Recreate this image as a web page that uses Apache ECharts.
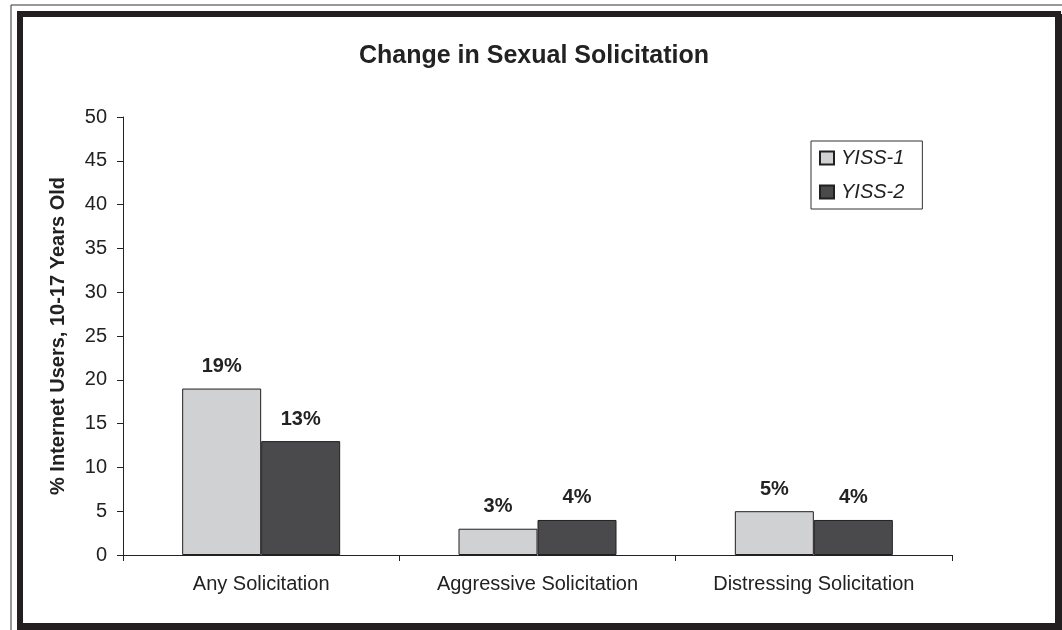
<!DOCTYPE html>
<html><head><meta charset="utf-8">
<script src="https://cdn.jsdelivr.net/npm/echarts@6/dist/echarts.min.js"></script>
<style>html,body{margin:0;padding:0;background:#fff}#c{width:1062px;height:630px}</style>
</head><body><div id="c"></div>
<script>
const categories = ['Any Solicitation', 'Aggressive Solicitation', 'Distressing Solicitation'];
const yiss1 = [19, 3, 5];
const yiss2 = [13, 4, 4];
const seriesNames = ['YISS-1', 'YISS-2'];
const chartTitle = 'Change in Sexual Solicitation';
const yAxisName = '% Internet Users, 10-17 Years Old';

const font = 'Arial, "Liberation Sans", sans-serif';
const chart = echarts.init(document.getElementById('c'));
const labelOpt = {show: true, position: 'top', distance: 12, formatter: p => p.value + '%', fontFamily: font, fontWeight: 'bold', fontSize: 20, color: '#222'};
chart.setOption({
  animation: false,
  graphic: [
    {type: 'rect', shape: {x: 11, y: 5, width: 1060, height: 630}, style: {fill: 'none', stroke: '#333', lineWidth: 1}, silent: true},
    {type: 'rect', shape: {x: 20, y: 14, width: 1038, height: 612}, style: {fill: 'none', stroke: '#231f20', lineWidth: 6}, silent: true},
    {type: 'rect', shape: {x: 1055, y: 14, width: 7, height: 616}, style: {fill: '#231f20'}, silent: true},
    {type: 'rect', shape: {x: 17, y: 623, width: 1045, height: 7}, style: {fill: '#231f20'}, silent: true}
  ],
  title: {text: chartTitle, left: 529, top: 39, textAlign: 'center', textStyle: {fontFamily: font, fontWeight: 'bold', fontSize: 25, color: '#222'}},
  legend: {
    data: seriesNames, orient: 'vertical', left: 811, top: 141,
    padding: [7, 18, 7, 8], itemGap: 14, itemWidth: 14, itemHeight: 13, borderColor: '#333', borderWidth: 1,
    textStyle: {fontFamily: font, fontStyle: 'italic', fontSize: 20, color: '#222', padding: [0, 0, 0, 2]},
    icon: 'rect'
  },
  grid: {left: 123, right: 110, top: 117, bottom: 75},
  xAxis: {
    type: 'category', data: categories,
    axisLine: {lineStyle: {color: '#222', width: 1}},
    axisTick: {show: true, length: 6, lineStyle: {color: '#222'}},
    axisLabel: {fontFamily: font, fontSize: 20, color: '#222', margin: 19}
  },
  yAxis: {
    type: 'value', min: 0, max: 50, interval: 5,
    name: yAxisName, nameLocation: 'middle', nameGap: 55, nameRotate: 90,
    nameTextStyle: {fontFamily: font, fontWeight: 'bold', fontSize: 20, color: '#222'},
    axisLine: {show: true, lineStyle: {color: '#222', width: 1}},
    axisTick: {show: true, length: 6, lineStyle: {color: '#222'}},
    splitLine: {show: false},
    axisLabel: {fontFamily: font, fontSize: 20, color: '#222', margin: 16}
  },
  series: [
    {name: seriesNames[0], type: 'bar', data: yiss1, barWidth: 79, barGap: '0%',
     itemStyle: {color: '#d0d1d3', borderColor: '#231f20', borderWidth: 1}, label: labelOpt},
    {name: seriesNames[1], type: 'bar', data: yiss2, barWidth: 79, barGap: '0%',
     itemStyle: {color: '#4a4a4c', borderColor: '#231f20', borderWidth: 1}, label: labelOpt}
  ]
});
</script></body></html>
